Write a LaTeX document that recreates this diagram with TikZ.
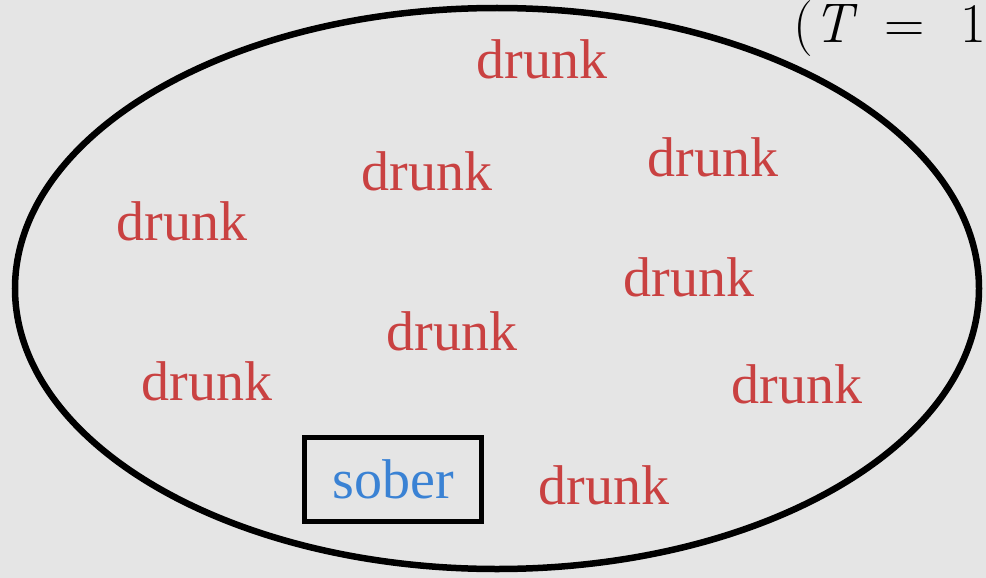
\documentclass[tikz,border=0pt]{standalone}
\usepackage{fontspec}
\setmainfont{Liberation Serif}
\newfontfamily\lmfont{Latin Modern Roman}
\definecolor{bgc}{HTML}{E5E5E5}
\definecolor{drunkc}{HTML}{C94141}
\definecolor{soberc}{HTML}{3A82D4}
\tikzset{
  word/.style={inner sep=0pt, anchor=base, font=\fontsize{56}{60}\selectfont},
  drunkw/.style={word, text=drunkc},
  soberw/.style={word, text=soberc},
}
\begin{document}
\begin{tikzpicture}[x=1pt,y=-1pt]
\fill[bgc] (0,0) rectangle (986,578);
\useasboundingbox (0,0) rectangle (986,578);
\draw[line width=6.5pt] (497,288.5) ellipse [x radius=482, y radius=280.5];
\node[anchor=base west, inner sep=0pt, font=\lmfont\fontsize{56}{60}\selectfont] (tlabel) at (793,43) {(\textit{T}\kern27pt=\kern36pt1};
\node[drunkw] (d1) at (542,79) {drunk};
\node[drunkw] (d2) at (427,190) {drunk};
\node[drunkw] (d3) at (713,176) {drunk};
\node[drunkw] (d4) at (182,240) {drunk};
\node[drunkw] (d5) at (689,296) {drunk};
\node[drunkw] (d6) at (452,350) {drunk};
\node[drunkw] (d7) at (207,400) {drunk};
\node[drunkw] (d8) at (797,403) {drunk};
\node[drunkw] (d9) at (604,504) {drunk};
\node[soberw] (s) at (393,498) {sober};
\draw[line width=5pt] (304.5,437.5) rectangle (481,521) coordinate (boxse);
\end{tikzpicture}
\end{document}
